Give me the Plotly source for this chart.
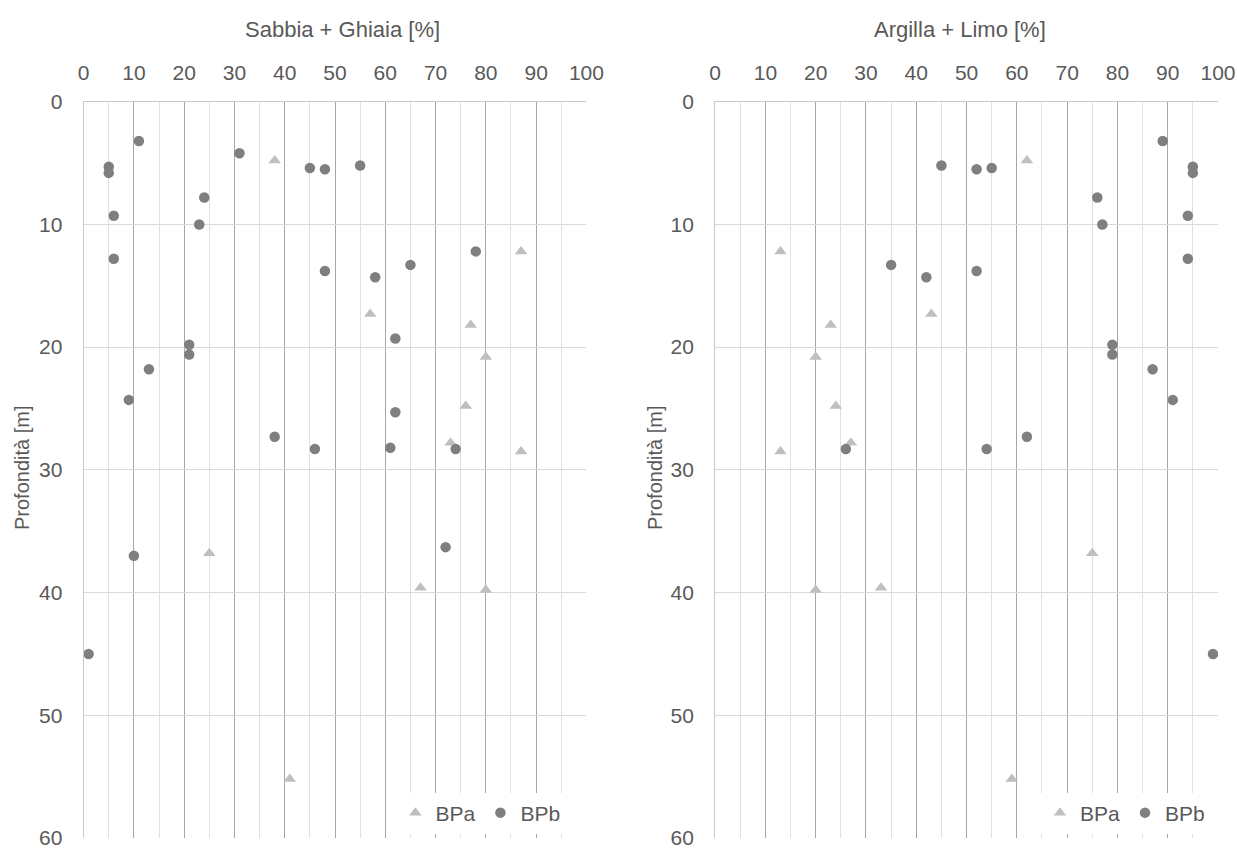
import plotly.graph_objects as go

# ---- Data ----
# Sabbia + Ghiaia [%]  (left panel)
sg_bpa_x = [38, 87, 57, 77, 80, 76, 73, 87, 25, 67, 80, 41]
sg_bpa_y = [4.8, 12.2, 17.3, 18.2, 20.8, 24.8, 27.8, 28.5, 36.8, 39.6, 39.8, 55.2]
sg_bpb_x = [11, 31, 5, 45, 48, 55, 5, 24, 6, 23, 78, 6, 65, 48, 58, 62, 21, 21,
            13, 9, 62, 38, 46, 61, 74, 72, 10, 1]
sg_bpb_y = [3.2, 4.2, 5.3, 5.4, 5.5, 5.2, 5.8, 7.8, 9.3, 10.0, 12.2, 12.8, 13.3, 13.8,
            14.3, 19.3, 19.8, 20.6, 21.8, 24.3, 25.3, 27.3, 28.3, 28.2, 28.3, 36.3, 37.0, 45.0]

# Argilla + Limo [%]  (right panel)
al_bpa_x = [62, 13, 43, 23, 20, 24, 27, 13, 75, 33, 20, 59]
al_bpa_y = [4.8, 12.2, 17.3, 18.2, 20.8, 24.8, 27.8, 28.5, 36.8, 39.6, 39.8, 55.2]
al_bpb_x = [89, 45, 52, 55, 95, 95, 76, 94, 77, 94, 35, 42, 52, 79, 79, 87, 91,
            62, 54, 26, 99]
al_bpb_y = [3.2, 5.2, 5.5, 5.4, 5.3, 5.8, 7.8, 9.3, 10.0, 12.8, 13.3, 14.3, 13.8,
            19.8, 20.6, 21.8, 24.3, 27.3, 28.3, 28.3, 45.0]

series_names = ["BPa", "BPb"]
panel_titles = ["Sabbia + Ghiaia [%]", "Argilla + Limo [%]"]
y_title = "Profondità [m]"
x_range = [0, 100]
y_range = [60, 0]

# ---- Styling ----
FONT = "Liberation Sans, Arial, sans-serif"
TXT = "#595959"
C_BPA = "#bfbfbf"
C_BPB = "#7f7f7f"
W, H = 1237, 850

fig = go.Figure()

def add_panel(bx, by, cx, cy, xa, ya, leg):
    fig.add_trace(go.Scatter(x=bx, y=by, mode="markers", name=series_names[0],
                             xaxis=xa, yaxis=ya, legend=leg,
                             marker=dict(symbol="triangle-up", size=11, color=C_BPA)))
    fig.add_trace(go.Scatter(x=cx, y=cy, mode="markers", name=series_names[1],
                             xaxis=xa, yaxis=ya, legend=leg,
                             marker=dict(symbol="circle", size=10.5, color=C_BPB)))

add_panel(sg_bpa_x, sg_bpa_y, sg_bpb_x, sg_bpb_y, "x", "y", "legend")
add_panel(al_bpa_x, al_bpa_y, al_bpb_x, al_bpb_y, "x2", "y2", "legend2")

# plot-area geometry (pixels)
L1, R1 = 83.6, 586.4
L2, R2 = 715.1, 1218.0
TOP, BOT = 101.7, 838.0
ydom = [(H - BOT) / H, (H - TOP) / H]

def px(xs):
    return xs / W

def py(ys):
    return (H - ys) / H

def xaxis(dom, anchor):
    return dict(domain=dom, anchor=anchor, side="top", range=x_range, dtick=10, tick0=0,
                showgrid=True, gridcolor="#a6a6a6", gridwidth=1,
                minor=dict(dtick=5, tick0=0, showgrid=True, gridcolor="#e0e0e0", gridwidth=1),
                showline=True, linecolor="#c8c8c8", linewidth=1, zeroline=False,
                ticks="", ticklabelstandoff=12, automargin=False,
                tickfont=dict(family=FONT, size=21, color=TXT), fixedrange=True)

def yaxis(anchor):
    return dict(domain=ydom, anchor=anchor, range=y_range, dtick=10, tick0=0,
                showgrid=True, gridcolor="#d9d9d9", gridwidth=1,
                showline=True, linecolor="#c8c8c8", linewidth=1, zeroline=False,
                ticks="", ticklabelstandoff=16, automargin=False,
                tickfont=dict(family=FONT, size=21, color=TXT), fixedrange=True)

leg_common = dict(orientation="h", bgcolor="white", borderwidth=0,
                  font=dict(family=FONT, size=21, color=TXT),
                  xanchor="right", yanchor="middle", itemclick=False, itemdoubleclick=False)

fig.update_layout(
    width=W, height=H,
    margin=dict(l=0, r=0, t=0, b=0, autoexpand=False),
    paper_bgcolor="white", plot_bgcolor="white",
    font=dict(family=FONT, color=TXT),
    xaxis=xaxis([L1 / W, R1 / W], "y"),
    yaxis=yaxis("x"),
    xaxis2=xaxis([L2 / W, R2 / W], "y2"),
    yaxis2=yaxis("x2"),
    legend=dict(x=px(R1 - 21), y=py(813), **leg_common),
    legend2=dict(x=px(R2 - 8), y=py(813), **leg_common),
    showlegend=True,
)

# panel titles and y-axis titles
for xc, t in zip([342, 960], panel_titles):
    fig.add_annotation(text=t, xref="paper", yref="paper", x=px(xc), y=py(30),
                       showarrow=False, xanchor="center", yanchor="middle",
                       font=dict(family=FONT, size=22, color=TXT))
for xc in [22, 655]:
    fig.add_annotation(text=y_title, xref="paper", yref="paper", x=px(xc), y=py(468),
                       showarrow=False, xanchor="center", yanchor="middle", textangle=-90,
                       font=dict(family=FONT, size=20, color=TXT))

fig.write_html("out.html", config={"displayModeBar": False},
               post_script="document.body.style.margin='0';document.body.style.overflow='hidden';")
